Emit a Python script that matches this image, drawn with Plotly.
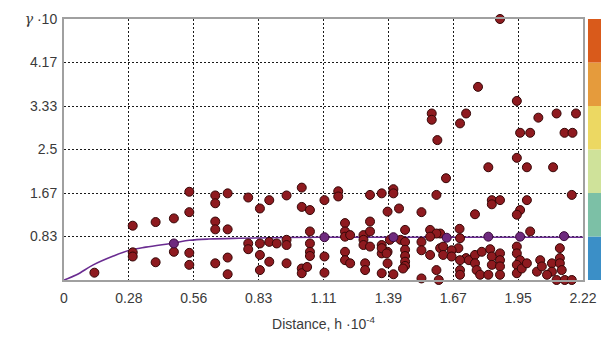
import plotly.graph_objects as go

# ---- data ----
x_ticks = [0, 0.2775, 0.555, 0.8325, 1.11, 1.3875, 1.665, 1.9425, 2.22]
x_tick_text = ["0", "0.28", "0.56", "0.83", "1.11", "1.39", "1.67", "1.95", "2.22"]
y_ticks = [0.8333, 1.6667, 2.5, 3.3333, 4.1667, 5.0]
y_tick_text = ["0.83", "1.67", "2.5", "3.33", "4.17",
               "<span style='font-family:DejaVu Serif'><i>γ</i></span> ·10"]

pts_x = [
    0.130, 0.294, 0.294, 0.294, 0.392, 0.392, 0.470, 0.470, 0.536, 0.536, 0.536, 0.536,
    0.647, 0.647, 0.700, 0.647, 0.647, 0.700, 0.647, 0.700, 0.700,
    0.788, 0.838, 0.878, 0.952, 1.017, 1.017, 1.052, 1.114, 1.173, 1.173, 1.309, 1.359,
    1.409, 1.409, 1.384, 1.433, 1.202, 1.309, 1.052, 1.202, 1.202, 1.224, 1.281, 1.309,
    1.459, 0.788, 0.788, 0.838, 0.878, 0.910, 0.952, 0.952, 1.052, 1.052, 1.052, 1.017,
    1.017, 1.040, 0.838, 0.838, 0.878, 0.952, 1.114, 1.114, 1.202, 1.202, 1.224, 1.281,
    1.281, 1.309, 1.288, 1.288, 1.359, 1.359, 1.359, 1.384, 1.384, 1.409, 1.440, 1.459,
    1.459, 1.459, 1.459, 1.459, 1.394,
    1.359, 1.380, 1.450, 1.609, 1.609, 1.687, 1.720,
    1.634, 1.593, 1.529, 1.758, 1.830, 1.830, 1.865, 1.980, 1.951, 1.937, 2.172, 1.692,
    1.566, 1.593, 1.529, 1.529, 1.566, 1.566, 1.622, 1.622, 1.658, 1.658, 1.694, 1.994,
    1.937, 1.937, 1.951, 1.593, 1.529, 1.603, 1.694, 1.694, 1.694, 1.732, 1.758, 1.758,
    1.765, 1.780, 1.787, 1.823, 1.830, 1.830, 1.865, 1.865, 1.865, 1.865, 1.815, 1.937,
    1.937, 1.958, 1.980, 2.023, 2.037, 2.044, 2.087, 2.087, 2.066, 2.121, 2.121, 2.121,
    2.129, 2.107, 2.142, 2.172,
    1.865, 1.771, 1.937, 1.573, 1.573, 1.720, 1.694, 1.597, 2.029, 2.107, 2.190, 1.951,
    1.994, 2.141, 2.175, 1.937, 1.815, 1.980, 2.092,
]
pts_y = [
    0.14, 0.53, 0.45, 1.04, 0.34, 1.11, 1.18, 0.54, 1.30, 1.69, 0.52, 0.29,
    1.62, 1.47, 1.66, 1.12, 0.97, 0.97, 0.32, 0.43, 0.11,
    1.58, 1.37, 1.53, 1.62, 1.77, 1.40, 1.34, 1.53, 1.70, 1.60, 1.63, 1.66,
    1.74, 1.66, 1.31, 1.37, 1.09, 1.12, 0.93, 0.93, 0.83, 0.86, 0.86, 0.93,
    0.96, 0.70, 0.59, 0.70, 0.73, 0.70, 0.77, 0.67, 0.70, 0.54, 0.46, 0.22,
    0.13, 0.25, 0.48, 0.19, 0.35, 0.32, 0.45, 0.14, 0.54, 0.38, 0.32, 0.77,
    0.67, 0.64, 0.32, 0.19, 0.67, 0.51, 0.13, 0.54, 0.32, 0.11, 0.77, 0.73,
    0.58, 0.46, 0.35, 0.27, 0.77,
    0.61, 0.51, 0.22, 0.89, 0.61, 0.61, 0.42,
    1.95, 1.63, 1.30, 1.26, 1.53, 1.45, 1.53, 1.53, 1.34, 1.25, 1.63, 0.98,
    0.96, 0.89, 0.73, 0.57, 0.83, 0.48, 0.64, 0.48, 0.57, 0.45, 0.80, 0.93,
    0.64, 0.51, 0.38, 0.19, 0.03, 0.00, 0.38, 0.19, 0.10, 0.38, 0.48, 0.32,
    0.19, 0.10, 0.54, 0.59, 0.45, 0.29, 0.51, 0.38, 0.26, 0.10, 0.10, 0.29,
    0.13, 0.22, 0.32, 0.16, 0.38, 0.26, 0.32, 0.16, 0.10, 0.61, 0.42, 0.32,
    0.19, 0.00, 0.00, 0.00,
    5.00, 3.70, 3.43, 3.19, 3.07, 3.19, 3.00, 2.68, 3.11, 3.19, 3.19, 2.82,
    2.82, 2.82, 2.82, 2.34, 2.16, 2.16, 2.16,
]

lag_x = [0.470, 1.114, 1.409, 1.637, 1.815, 1.951, 2.139]
lag_y = [0.70, 0.82, 0.82, 0.81, 0.83, 0.83, 0.84]

model_x = [0, 0.054, 0.125, 0.211, 0.28, 0.35, 0.47, 0.536, 0.62, 0.75, 0.9, 1.1, 2.22]
model_y = [0, 0.10, 0.29, 0.46, 0.57, 0.63, 0.71, 0.76, 0.785, 0.80, 0.81, 0.82, 0.82]

legend_colors = ["#3B8FC7", "#7CC0A6", "#CFE29A", "#ECD862", "#E59B3C", "#D95A1B"]
legend_levels = [0, 0.8333, 1.6667, 2.5, 3.3333, 4.1667, 5.0]

fig = go.Figure()
fig.add_trace(go.Scatter(x=model_x, y=model_y, mode="lines",
                         line=dict(color="#6A2C91", width=1.6, shape="spline"),
                         hoverinfo="skip", showlegend=False))
fig.add_trace(go.Scatter(x=pts_x, y=pts_y, mode="markers",
                         marker=dict(size=9, color="#8E1A1F",
                                     line=dict(color="#350707", width=1)),
                         cliponaxis=False, showlegend=False))
fig.add_trace(go.Scatter(x=lag_x, y=lag_y, mode="markers",
                         marker=dict(size=9, color="#6E2A7E",
                                     line=dict(color="#3A0838", width=1)),
                         cliponaxis=False, showlegend=False))

shapes = []
for i, c in enumerate(legend_colors):
    shapes.append(dict(type="rect", xref="paper", yref="y",
                       x0=1.0096, x1=1.05, y0=legend_levels[i], y1=legend_levels[i + 1],
                       fillcolor=c, line=dict(width=0), layer="below"))

fig.update_layout(
    width=601, height=337,
    margin=dict(l=64, r=18, t=19, b=57, autoexpand=False),
    paper_bgcolor="white", plot_bgcolor="white",
    font=dict(family="Liberation Sans, Arial, sans-serif", size=14, color="#3A3A3A"),
    shapes=shapes,
    xaxis=dict(range=[0, 2.22], tickvals=x_ticks, ticktext=x_tick_text,
               showgrid=True, gridcolor="#1A1A1A", gridwidth=1.4, griddash="2px,2px",
               zeroline=False, showline=True, mirror=True, linecolor="#A0A0A0",
               linewidth=2, ticks="", ticklabelstandoff=4, automargin=False,
               title=dict(text="Distance, h ·10<sup>-4</sup>", font=dict(size=14), standoff=14)),
    yaxis=dict(range=[0, 5], tickvals=y_ticks, ticktext=y_tick_text,
               showgrid=True, gridcolor="#1A1A1A", gridwidth=1.4, griddash="2px,2px",
               zeroline=False, showline=True, mirror=True, linecolor="#A0A0A0",
               linewidth=2, ticks="", ticklabelstandoff=2, automargin=False),
)

fig.write_html("out.html", config={"displayModeBar": False},
               post_script="document.body.style.margin='0';")
